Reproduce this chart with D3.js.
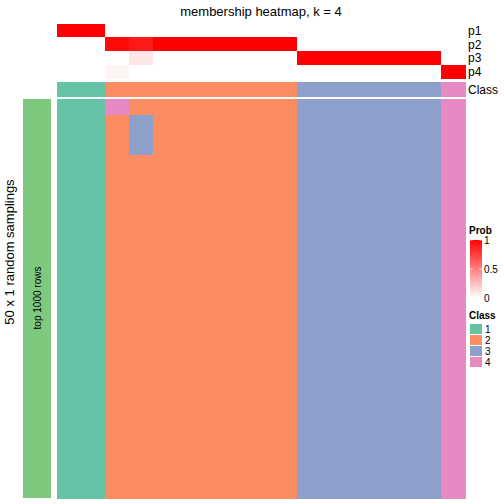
<!DOCTYPE html>
<html><head><meta charset="utf-8">
<script src="https://cdn.jsdelivr.net/npm/d3@7"></script>
<style>body{margin:0;background:#fff}svg{display:block;font-family:"Liberation Sans",Arial,sans-serif}rect{shape-rendering:crispEdges}</style>
</head><body><svg id="c" width="504" height="504"></svg>
<script>
const columns = d3.range(1, 18);
const columnClass = [1,1,2,2,2,2,2,2,2,2,3,3,3,3,3,3,4];
const probRows = ["p1","p2","p3","p4"];
const p1 = [1,1,0,0,0,0,0,0,0,0,0,0,0,0,0,0,0];
const p2 = [0,0,0.96,0.9,1,1,1,1,1,1,0,0,0,0,0,0,0];
const p3 = [0,0,0,0.1,0,0,0,0,0,0,1,1,1,1,1,1,0];
const p4 = [0,0,0.04,0,0,0,0,0,0,0,0,0,0,0,0,0,1];
const samplingClasses = [
  "11111111111111111111111111111111111111111111111111",
  "11111111111111111111111111111111111111111111111111",
  "44222222222222222222222222222222222222222222222222",
  "22333332222222222222222222222222222222222222222222",
  "22222222222222222222222222222222222222222222222222",
  "22222222222222222222222222222222222222222222222222",
  "22222222222222222222222222222222222222222222222222",
  "22222222222222222222222222222222222222222222222222",
  "22222222222222222222222222222222222222222222222222",
  "22222222222222222222222222222222222222222222222222",
  "33333333333333333333333333333333333333333333333333",
  "33333333333333333333333333333333333333333333333333",
  "33333333333333333333333333333333333333333333333333",
  "33333333333333333333333333333333333333333333333333",
  "33333333333333333333333333333333333333333333333333",
  "33333333333333333333333333333333333333333333333333",
  "44444444444444444444444444444444444444444444444444"
];
const classLabels = ["1","2","3","4"];
const probTicks = [0, 0.5, 1];
const classColors = ["#66c2a5","#fc8d62","#8da0cb","#e78ac3"];

const svg = d3.select("#c");
const x = d3.scaleBand().domain(columns).range([57, 465]);
const yAnn = d3.scaleBand().domain(probRows).range([23.5, 78.5]);
const yMain = d3.scaleBand().domain(d3.range(50)).range([99, 498]);
const probColor = d3.scaleLinear().domain([0, 1]).range(["#ffffff", "#ff0000"]).interpolate(d3.interpolateRgb);
const classColor = d3.scaleOrdinal().domain([1,2,3,4]).range(classColors);

svg.append("text").attr("x", 261).attr("y", 16).attr("text-anchor", "middle")
  .attr("font-size", 13).text("membership heatmap, k = 4");

const probData = [p1, p2, p3, p4];
probRows.forEach((r, i) => {
  svg.append("g").selectAll("rect").data(probData[i]).join("rect")
    .attr("x", (d, j) => x(columns[j])).attr("width", x.bandwidth() + 0.5)
    .attr("y", yAnn(r)).attr("height", yAnn.bandwidth())
    .attr("fill", d => probColor(d));
  svg.append("text").attr("x", 468).attr("y", yAnn(r) + yAnn.bandwidth() / 2 + 4.5)
    .attr("font-size", 12).text(r);
});

svg.append("g").selectAll("rect").data(columnClass).join("rect")
  .attr("x", (d, j) => x(columns[j])).attr("width", x.bandwidth() + 0.5)
  .attr("y", 82).attr("height", 15).attr("fill", d => classColor(d));
svg.append("text").attr("x", 468).attr("y", 94).attr("font-size", 12).text("Class");

const cells = [];
samplingClasses.forEach((s, j) => {
  s.split("").forEach((c, i) => cells.push({col: columns[j], row: i, cls: +c}));
});
svg.append("g").selectAll("rect").data(cells).join("rect")
  .attr("x", d => x(d.col)).attr("width", x.bandwidth() + 0.5)
  .attr("y", d => yMain(d.row)).attr("height", yMain.bandwidth() + 1)
  .attr("fill", d => classColor(d.cls));

svg.append("rect").attr("x", 23).attr("y", 99).attr("width", 28).attr("height", 399).attr("fill", "#7fc97f");
svg.append("text").attr("transform", "translate(41,298) rotate(-90)").attr("text-anchor", "middle")
  .attr("font-size", 10).text("top 1000 rows");
svg.append("text").attr("transform", "translate(14,252) rotate(-90)").attr("text-anchor", "middle")
  .attr("font-size", 13).text("50 x 1 random samplings");

// Prob legend
svg.append("text").attr("x", 469).attr("y", 234).attr("font-size", 10).attr("font-weight", "bold").text("Prob");
const defs = svg.append("defs");
const grad = defs.append("linearGradient").attr("id", "pg").attr("x1", 0).attr("y1", 1).attr("x2", 0).attr("y2", 0);
d3.range(0, 1.01, 0.1).forEach(t => grad.append("stop").attr("offset", t).attr("stop-color", probColor(t)));
const yLeg = d3.scaleLinear().domain([0, 1]).range([298, 240]);
svg.append("rect").attr("x", 470).attr("y", 240).attr("width", 12).attr("height", 58).attr("fill", "url(#pg)");
probTicks.forEach(t => {
  svg.append("line").attr("x1", 470).attr("x2", 472.5).attr("y1", yLeg(t)).attr("y2", yLeg(t)).attr("stroke", "#fff").attr("stroke-width", 0.8);
  svg.append("line").attr("x1", 479.5).attr("x2", 482).attr("y1", yLeg(t)).attr("y2", yLeg(t)).attr("stroke", "#fff").attr("stroke-width", 0.8);
  svg.append("text").attr("x", 484).attr("y", yLeg(t) + 4).attr("font-size", 10).text(d3.format("~g")(t));
});

svg.append("text").attr("x", 469).attr("y", 319).attr("font-size", 10).attr("font-weight", "bold").text("Class");
classLabels.forEach((l, i) => {
  svg.append("rect").attr("x", 470).attr("y", 324 + i * 11).attr("width", 12).attr("height", 10).attr("fill", classColors[i]);
  svg.append("text").attr("x", 485).attr("y", 333 + i * 11).attr("font-size", 10).text(l);
});
</script></body></html>
